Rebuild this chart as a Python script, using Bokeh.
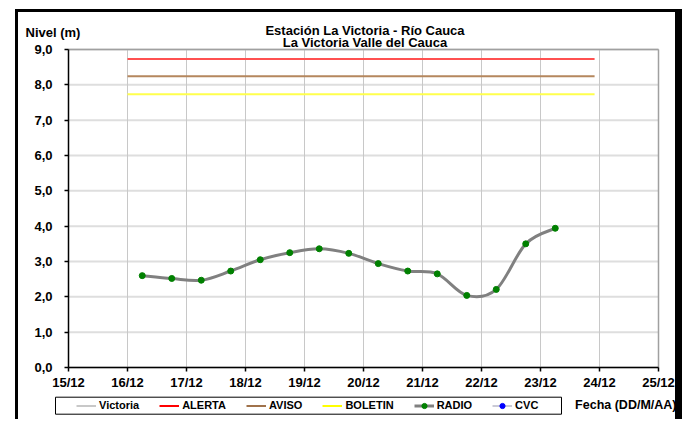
import numpy as np
import pandas as pd
from bokeh.plotting import figure
from bokeh.models import (FixedTicker, Legend, LegendItem, Label, BoxAnnotation,
                          ColumnDataSource, Range1d)
from bokeh.embed import file_html
from bokeh.resources import INLINE

# ---------------- data ----------------
title_lines = ["Estación La Victoria - Río Cauca", "La Victoria Valle del Cauca"]
y_title = "Nivel (m)"
x_title = "Fecha (DD/M/AA)"

radio_times = ["2011-12-16 06:00", "2011-12-16 18:00", "2011-12-17 06:00", "2011-12-17 18:00",
               "2011-12-18 06:00", "2011-12-18 18:00", "2011-12-19 06:00", "2011-12-19 18:00",
               "2011-12-20 06:00", "2011-12-20 18:00", "2011-12-21 06:00", "2011-12-21 18:00",
               "2011-12-22 06:00", "2011-12-22 18:00", "2011-12-23 06:00"]
radio_levels = [2.60, 2.52, 2.47, 2.73, 3.05, 3.25, 3.36, 3.23,
                2.94, 2.73, 2.65, 2.04, 2.21, 3.50, 3.94]

threshold_names = ["ALERTA", "AVISO", "BOLETIN"]
threshold_levels = [8.73, 8.24, 7.73]
threshold_start = "2011-12-16 00:00"
threshold_end = "2011-12-23 22:00"

tick_days = [15, 16, 17, 18, 19, 20, 21, 22, 23, 24, 25]
tick_labels = ["15/12", "16/12", "17/12", "18/12", "19/12", "20/12",
               "21/12", "22/12", "23/12", "24/12", "25/12"]
y_ticks = [0, 1, 2, 3, 4, 5, 6, 7, 8, 9]
y_tick_labels = ["0,0", "1,0", "2,0", "3,0", "4,0", "5,0", "6,0", "7,0", "8,0", "9,0"]

legend_names = ["Victoria", "ALERTA", "AVISO", "BOLETIN", "RADIO", "CVC"]

# ---------------- helpers ----------------
def to_day(s):
    t = pd.Timestamp(s)
    return t.day + t.hour / 24.0 + t.minute / 1440.0

xs = np.array([to_day(t) for t in radio_times])
ys = np.array(radio_levels, dtype=float)

FONT = "Liberation Sans"
# page geometry (pixels): canvas sits inside the black CSS frame
OX, OY = 18, 12
W, H = 685 - OX, 422 - OY
PL, PR, PT, PB = 68, 658, 49, 367      # where the plotting area (15..25, 0..9) lies
X0, X1 = tick_days[0], tick_days[-1]
Y0, Y1 = y_ticks[0], y_ticks[-1]
KX = (X1 - X0) / (PR - PL)
KY = (Y1 - Y0) / (PB - PT)

def dx(px):
    return X0 + (px - PL) * KX

def dy(py):
    return Y1 - (py - PT) * KY

# the frame is the whole canvas; the axes are pinned at x=15 / y=0
p = figure(width=W, height=H, output_backend="svg", toolbar_location=None,
           x_range=Range1d(dx(OX), dx(OX + W)), y_range=Range1d(dy(OY + H), dy(OY)),
           title=None, min_border=0)
p.styles = {"margin-left": "15px", "margin-top": "9px",
            "border-left": "3px solid black", "border-top": "3px solid black",
            "border-right": "7px solid black"}
p.background_fill_color = "white"
p.border_fill_color = "white"
p.outline_line_color = None
p.grid.visible = False

for ax in (p.xaxis[0], p.yaxis[0]):
    ax.major_label_text_font = FONT
    ax.major_label_text_font_style = "bold"
    ax.major_label_text_font_size = "13px"
    ax.major_label_text_color = "black"
    ax.axis_line_color = "black"
    ax.axis_line_width = 1.5
    ax.major_tick_line_color = "black"
    ax.major_tick_line_width = 1.5
    ax.major_tick_in = 0
    ax.major_tick_out = 4
    ax.minor_tick_line_color = None

p.xaxis.fixed_location = Y0
p.xaxis.bounds = (X0, X1)
p.xaxis.ticker = FixedTicker(ticks=tick_days)
p.xaxis.major_label_overrides = {d: l for d, l in zip(tick_days, tick_labels)}
p.xaxis.major_label_standoff = 3
p.yaxis.fixed_location = X0
p.yaxis.bounds = (Y0, Y1)
p.yaxis.ticker = FixedTicker(ticks=y_ticks)
p.yaxis.major_label_overrides = {d: l for d, l in zip(y_ticks, y_tick_labels)}
p.yaxis.major_label_standoff = 12

# grid lines and plot-area border, limited to the plotting area
nx, ny = len(tick_days), len(y_ticks)
p.segment(x0=[X0] * ny, y0=y_ticks, x1=[X1] * ny, y1=y_ticks,
          line_color="#dedede", line_width=2)
p.segment(x0=tick_days, y0=[Y0] * nx, x1=tick_days, y1=[Y1] * nx,
          line_color="#c8c8c8", line_width=1)
p.segment(x0=[X0, X1], y0=[Y1, Y0], x1=[X1, X1], y1=[Y1, Y1],
          line_color="#a0a0a0", line_width=1.5)

thr_colors = ["#ff5050", "#b5875e", "#ffff4d"]
tsrc = ColumnDataSource(dict(x0=[to_day(threshold_start)] * 3, x1=[to_day(threshold_end)] * 3,
                             y=threshold_levels, c=thr_colors))
p.segment(x0="x0", y0="y", x1="x1", y1="y", color="c", line_width=2, source=tsrc)

# smoothed curve: Bezier segments whose control points come from the data points
n = len(xs)
bx0, by0, bx1, by1, cx0, cy0, cx1, cy1 = ([] for _ in range(8))
for i in range(n - 1):
    pm = i - 1 if i > 0 else i
    pp = i + 2 if i + 2 < n else i + 1
    bx0.append(xs[i]); by0.append(ys[i]); bx1.append(xs[i + 1]); by1.append(ys[i + 1])
    cx0.append(xs[i] + (xs[i + 1] - xs[pm]) / 6.0)
    cy0.append(ys[i] + (ys[i + 1] - ys[pm]) / 6.0)
    cx1.append(xs[i + 1] - (xs[pp] - xs[i]) / 6.0)
    cy1.append(ys[i + 1] - (ys[pp] - ys[i]) / 6.0)
p.bezier(x0=bx0, y0=by0, x1=bx1, y1=by1, cx0=cx0, cy0=cy0, cx1=cx1, cy1=cy1,
         line_color="#808080", line_width=3)
r_pts = p.scatter(xs, ys, size=6, fill_color="#008000", line_color="#008000")

# legend-only renderers (series without data in the plot)
nan = [float("nan")]
r_vic = p.line(nan, nan, line_color="#c8c8c8", line_width=2)
r_ale = p.line(nan, nan, line_color="#ff0000", line_width=2)
r_avi = p.line(nan, nan, line_color="#a0724b", line_width=2)
r_bol = p.line(nan, nan, line_color="#ffff00", line_width=2)
r_rad = p.line(nan, nan, line_color="#808080", line_width=3)
r_cvc_l = p.line(nan, nan, line_color="#b8b8c8", line_width=1.5)
r_cvc_s = p.scatter(nan, nan, size=5, fill_color="#0000ff", line_color="#0000ff")

# legend box
p.add_layout(BoxAnnotation(left=dx(55), right=dx(561), top=dy(396.7), bottom=dy(413.7),
                           fill_color="white", fill_alpha=1.0,
                           line_color="black", line_width=1, line_alpha=1.0))
legend = Legend(items=[LegendItem(label=legend_names[0], renderers=[r_vic]),
                       LegendItem(label=legend_names[1], renderers=[r_ale]),
                       LegendItem(label=legend_names[2], renderers=[r_avi]),
                       LegendItem(label=legend_names[3], renderers=[r_bol]),
                       LegendItem(label=legend_names[4], renderers=[r_rad, r_pts]),
                       LegendItem(label=legend_names[5], renderers=[r_cvc_l, r_cvc_s])],
                orientation="horizontal", location=(74 - OX, OY + H - 413.7),
                padding=2, margin=0, spacing=20, glyph_width=20, glyph_height=13,
                label_height=13, label_standoff=3,
                label_text_font=FONT, label_text_font_style="bold",
                label_text_font_size="11px", label_text_color="black",
                background_fill_alpha=0, border_line_alpha=0)
p.add_layout(legend, "center")


def lab(txt, px, py, align="left", size="13px"):
    p.add_layout(Label(x=dx(px), y=dy(py), text=txt, text_align=align,
                       text_baseline="alphabetic", text_font=FONT, text_font_style="bold",
                       text_font_size=size, text_color="black"))

lab(y_title, 25, 32)
lab(title_lines[0], 364.5, 29.5, align="center")
lab(title_lines[1], 364.5, 42, align="center")
lab(x_title, 676, 404.5, align="right", size="12.5px")

open("out.html", "w").write(file_html(p, INLINE))
